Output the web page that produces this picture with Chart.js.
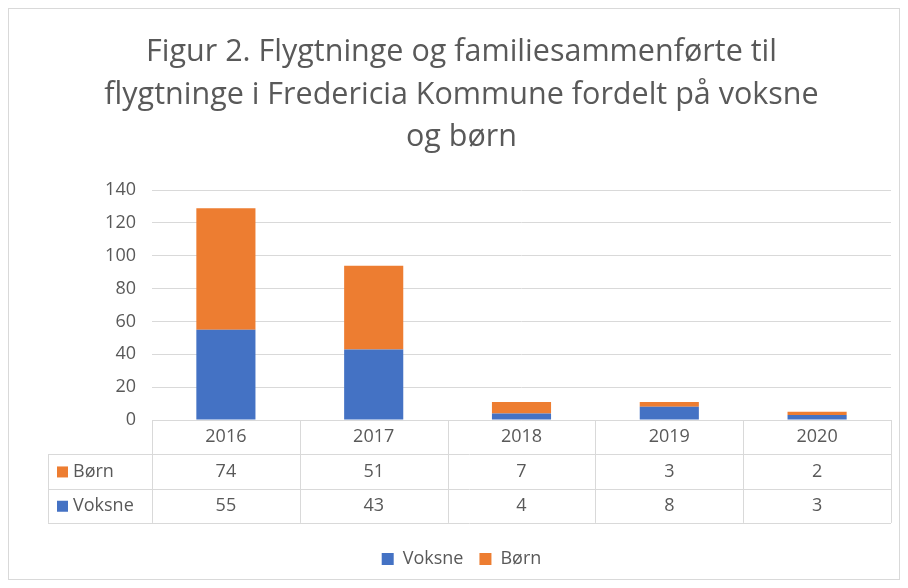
<!DOCTYPE html>
<html lang="da">
<head>
<meta charset="UTF-8">
<title>Figur 2</title>
<script src="https://cdn.jsdelivr.net/npm/chart.js"></script>
<style>
    body {
        margin: 0;
        background: white;
        font-family: "Open Sans", sans-serif;
    }
    #wrap {
        position: absolute;
        left: 8px;
        top: 8px;
        width: 892px;
        height: 572px;
        border: 1px solid #d9d9d9;
        box-sizing: border-box;
    }
</style>
</head>
<body>
<div id="wrap"><canvas id="chart"></canvas></div>
<script>
const years = ['2016', '2017', '2018', '2019', '2020'];
const voksne = [55, 43, 4, 8, 3];
const boern = [74, 51, 7, 3, 2];
const titleLines = ['Figur 2. Flygtninge og familiesammenførte til', 'flygtninge i Fredericia Kommune fordelt på voksne', 'og børn'];

const blue = '#4472C4';
const orange = '#ED7D31';
const textColor = '#595959';
const lineColor = '#d9d9d9';
const fontFamily = '"Open Sans", sans-serif';

// data table under the plot, like in Excel
const dataTable = {
    id: 'dataTable',
    afterDraw(chart) {
        const ctx = chart.ctx;
        const x = chart.scales.x;
        const area = chart.chartArea;
        const rowH = 34.3;
        const top = area.bottom;
        const keyLeft = 39;
        const rows = [
            { label: 'Børn', color: orange, values: boern },
            { label: 'Voksne', color: blue, values: voksne }
        ];
        const edges = [area.left];
        for (let i = 0; i < years.length - 1; i++) {
            edges.push((x.getPixelForValue(i) + x.getPixelForValue(i + 1)) / 2);
        }
        edges.push(area.right);

        ctx.save();
        ctx.strokeStyle = lineColor;
        ctx.lineWidth = 1;
        ctx.beginPath();
        ctx.moveTo(area.left, top + 0.5);
        ctx.lineTo(area.right, top + 0.5);
        for (let r = 1; r <= 3; r++) {
            const y = Math.round(top + r * rowH) + 0.5;
            ctx.moveTo(keyLeft, y);
            ctx.lineTo(area.right, y);
        }
        edges.forEach(e => {
            const ex = Math.round(e) + 0.5;
            ctx.moveTo(ex, top);
            ctx.lineTo(ex, top + 3 * rowH);
        });
        ctx.moveTo(keyLeft + 0.5, top + rowH);
        ctx.lineTo(keyLeft + 0.5, top + 3 * rowH);
        ctx.stroke();

        ctx.fillStyle = textColor;
        ctx.font = '18px ' + fontFamily;
        ctx.textBaseline = 'middle';
        ctx.textAlign = 'center';
        years.forEach((yr, i) => {
            ctx.fillText(yr, x.getPixelForValue(i), top + rowH / 2);
        });
        rows.forEach((row, r) => {
            const cy = top + (r + 1.5) * rowH;
            ctx.fillStyle = row.color;
            ctx.fillRect(keyLeft + 9, cy - 5, 11, 11);
            ctx.fillStyle = textColor;
            ctx.textAlign = 'left';
            ctx.fillText(row.label, keyLeft + 25, cy);
            ctx.textAlign = 'center';
            row.values.forEach((v, i) => {
                ctx.fillText(String(v), x.getPixelForValue(i), cy);
            });
        });
        ctx.restore();
    }
};

new Chart(document.getElementById('chart'), {
    type: 'bar',
    data: {
        labels: years,
        datasets: [
            { label: 'Voksne', data: voksne, backgroundColor: blue },
            { label: 'Børn', data: boern, backgroundColor: orange }
        ]
    },
    options: {
        responsive: true,
        maintainAspectRatio: false,
        animation: false,
        layout: { padding: { top: 22, right: 8, bottom: 1, left: 23 } },
        datasets: { bar: { categoryPercentage: 0.4, barPercentage: 1 } },
        plugins: {
            title: {
                display: true,
                text: titleLines,
                color: textColor,
                font: { family: fontFamily, size: 30.5, weight: 'normal', lineHeight: 1.4 },
                padding: { top: 0, bottom: 31 }
            },
            legend: {
                position: 'bottom',
                labels: {
                    color: textColor,
                    font: { family: fontFamily, size: 18 },
                    boxWidth: 12,
                    boxHeight: 12,
                    padding: 16
                }
            },
            tooltip: { enabled: false }
        },
        scales: {
            x: {
                stacked: true,
                grid: { display: false },
                border: { display: false },
                ticks: { display: false },
                afterFit(scale) { scale.height = 114; }
            },
            y: {
                stacked: true,
                min: 0,
                max: 140,
                ticks: {
                    stepSize: 20,
                    color: textColor,
                    padding: 16,
                    font: { family: fontFamily, size: 18 }
                },
                grid: { color: lineColor, drawTicks: false },
                border: { display: false },
                afterFit(scale) { scale.width = 120; }
            }
        }
    },
    plugins: [dataTable]
});
</script>
</body>
</html>
